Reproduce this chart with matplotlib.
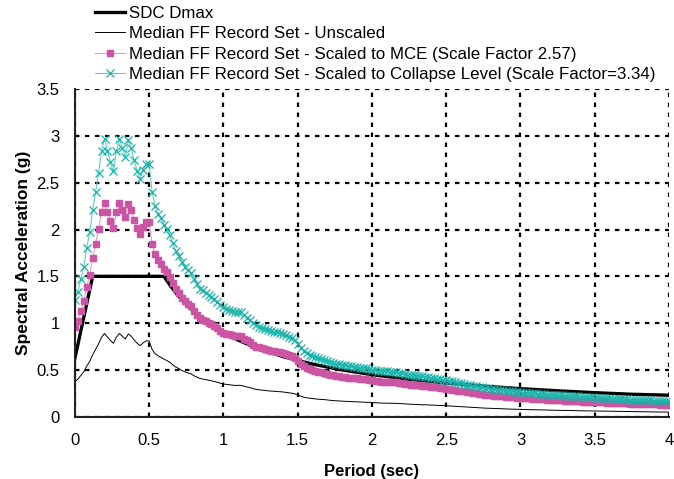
import numpy as np
import matplotlib
matplotlib.use("Agg")
import matplotlib.pyplot as plt
from matplotlib.ticker import FormatStrFormatter

plt.rcParams['font.family'] = ['Liberation Sans', 'DejaVu Sans']

# periodos (s), paso de 0.02 s
periodos = np.round(np.arange(0, 4.0001, 0.02), 2)

# mediana sin escalar (g), una fila = 0.2 s
sa_sin_escala = [
    0.375, 0.40, 0.44, 0.48, 0.54, 0.59, 0.66, 0.72, 0.78, 0.85,
    0.89, 0.85, 0.815, 0.785, 0.85, 0.89, 0.86, 0.83, 0.885, 0.86,
    0.82, 0.785, 0.76, 0.79, 0.81, 0.81, 0.72, 0.675, 0.65, 0.635,
    0.615, 0.60, 0.58, 0.555, 0.53, 0.515, 0.495, 0.48, 0.468, 0.46,
    0.44, 0.425, 0.41, 0.404, 0.397, 0.39, 0.384, 0.377, 0.367, 0.358,
    0.35, 0.346, 0.342, 0.338, 0.334, 0.336, 0.334, 0.325, 0.317, 0.31,
    0.30, 0.292, 0.288, 0.284, 0.28, 0.277, 0.274, 0.272, 0.27, 0.268,
    0.265, 0.26, 0.256, 0.252, 0.245, 0.232, 0.22, 0.21, 0.203, 0.198,
    0.194, 0.19, 0.187, 0.185, 0.183, 0.179, 0.175, 0.172, 0.17, 0.168,
    0.167, 0.165, 0.163, 0.162, 0.160, 0.159, 0.157, 0.156, 0.155, 0.153,
    0.151, 0.149, 0.147, 0.146, 0.145, 0.145, 0.144, 0.144, 0.143, 0.141,
    0.139, 0.137, 0.135, 0.134, 0.132, 0.131, 0.130, 0.129, 0.128, 0.126,
    0.124, 0.123, 0.122, 0.121, 0.119, 0.117, 0.115, 0.113, 0.111, 0.109,
    0.107, 0.105, 0.103, 0.101, 0.099, 0.097, 0.096, 0.094, 0.092, 0.091,
    0.089, 0.088, 0.087, 0.086, 0.085, 0.083, 0.082, 0.081, 0.080, 0.079,
    0.078, 0.077, 0.077, 0.076, 0.075, 0.075, 0.074, 0.073, 0.072, 0.071,
    0.070, 0.070, 0.069, 0.068, 0.068, 0.067, 0.067, 0.066, 0.065, 0.065,
    0.064, 0.063, 0.063, 0.062, 0.062, 0.061, 0.061, 0.060, 0.060, 0.059,
    0.059, 0.058, 0.058, 0.057, 0.057, 0.056, 0.056, 0.055, 0.055, 0.054,
    0.054, 0.053, 0.053, 0.052, 0.052, 0.051, 0.051, 0.050, 0.050, 0.049,
    0.049,
]

# factores de escala (leyenda)
factor_mce = 2.57
factor_colapso = 3.34

# espectro de diseno SDC Dmax
periodos_sdc = [0, 0.12, 0.6, 0.65, 0.7, 0.75, 0.8, 0.9, 1.0, 1.1, 1.2, 1.4, 1.6,
                1.8, 2.0, 2.25, 2.5, 2.75, 3.0, 3.25, 3.5, 3.75, 4.0]
sa_sdc = [0.62, 1.5, 1.5, 1.385, 1.286, 1.2, 1.125, 1.0, 0.9, 0.818, 0.75, 0.643,
          0.5625, 0.5, 0.45, 0.4, 0.36, 0.327, 0.3, 0.277, 0.257, 0.24, 0.23]

etiquetas = ['SDC Dmax',
             'Median FF Record Set - Unscaled',
             'Median FF Record Set - Scaled to MCE (Scale Factor 2.57)',
             'Median FF Record Set - Scaled to Collapse Level (Scale Factor=3.34)']

sa = np.array(sa_sin_escala)
sa_mce = sa * factor_mce
sa_colapso = sa * factor_colapso

fig = plt.figure(figsize=(6.74, 4.79), dpi=100)
ax = fig.add_axes([0.111, 0.130, 0.8816, 0.6838])

ax.plot(periodos_sdc, sa_sdc, color='black', lw=2.4, label=etiquetas[0])
ax.plot(periodos, sa, color='black', lw=0.7, label=etiquetas[1])
ax.plot(periodos, sa_mce, color='#e59ccb', lw=0.8, marker='s', ms=4.8,
        mfc='#cc55a3', mec='#cc55a3', label=etiquetas[2])
ax.plot(periodos, sa_colapso, color='#5fcfc8', lw=0.8, marker='x', ms=5.5,
        mew=0.9, mec='#17b3aa', label=etiquetas[3])

ax.set_xlim(0, 4)
ax.set_ylim(0, 3.5)
ax.set_xticks(np.arange(0, 4.01, 0.5))
ax.set_yticks(np.arange(0, 3.51, 0.5))
ax.xaxis.set_major_formatter(FormatStrFormatter('%g'))
ax.yaxis.set_major_formatter(FormatStrFormatter('%g'))
ax.tick_params(axis='y', length=0, labelsize=12, pad=11)
ax.tick_params(axis='x', length=0, labelsize=12, pad=12)
ax.grid(True, color='black', linestyle=(0, (2, 2.5)), lw=1.6)
ax.set_axisbelow(True)
for lado in ['top', 'right']:
    ax.spines[lado].set_visible(False)
for lado in ['left', 'bottom']:
    ax.spines[lado].set_linewidth(1.5)
    ax.spines[lado].set_color('#222222')

ax.set_xlabel('Period (sec)', fontsize=12, fontweight='bold', labelpad=11)
ax.set_ylabel('Spectral Acceleration (g)', fontsize=12.5, fontweight='bold', labelpad=4)

fig.legend(loc='upper left', bbox_to_anchor=(95 / 674, 1 - 6 / 479), frameon=False,
           fontsize=12.2, handlelength=1.75, handletextpad=0.25, labelspacing=0.31,
           borderpad=0, borderaxespad=0)

fig.savefig('out.png', dpi=100)
